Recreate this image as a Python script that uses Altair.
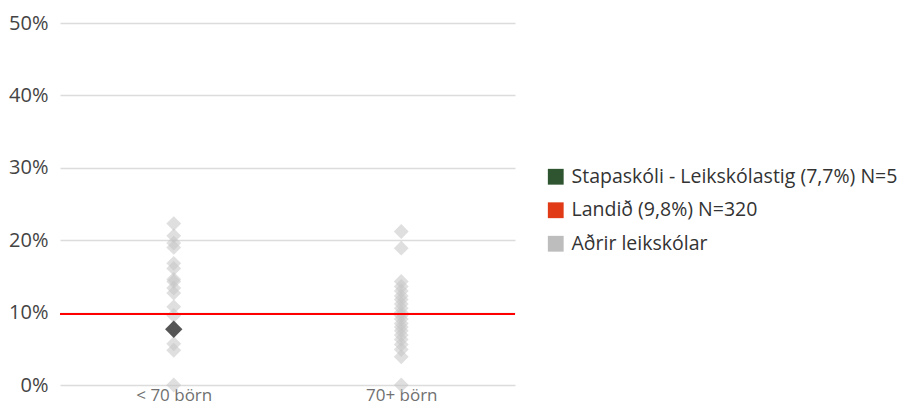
import altair as alt
import pandas as pd

categories = ["< 70 börn", "70+ börn"]
small_values = [22.3, 20.6, 19.6, 19.0, 16.8, 16.1, 14.6, 14.3, 13.4, 12.7, 10.8, 9.6, 5.7, 4.8, 0.0]
large_values = [21.2, 18.9, 14.3, 13.6, 13.0, 12.3, 11.8, 11.2, 10.6, 10.0, 9.6, 9.1,
                8.5, 8.0, 7.5, 6.9, 6.3, 5.6, 4.9, 3.9, 0.0]
school_category = "< 70 börn"
school_value = 7.7
national_value = 9.8
legend_labels = ["Stapaskóli - Leikskólastig (7,7%) N=5", "Landið (9,8%) N=320", "Aðrir leikskólar"]
legend_colors = ["#2e5530", "#e03a17", "#bdbdbd"]

FONT = "Open Sans"

others = pd.DataFrame(
    [{"cat": categories[0], "v": v / 100} for v in small_values]
    + [{"cat": categories[1], "v": v / 100} for v in large_values]
)
school = pd.DataFrame([{"cat": school_category, "v": school_value / 100}])
national = pd.DataFrame([{"v": national_value / 100}])
legend_df = pd.DataFrame({"lab": legend_labels, "v": [0.0] * 3, "cat": [categories[0]] * 3})

xenc = alt.X("cat:N", sort=categories, title=None,
             scale=alt.Scale(domain=categories),
             axis=alt.Axis(labelAngle=0, domain=False, ticks=False, grid=False, labelFontSize=17,
                           labelColor="#707070", labelFont=FONT, labelPadding=2))
yenc = alt.Y("v:Q", title=None,
             scale=alt.Scale(domain=[0, 0.5]),
             axis=alt.Axis(format=".0%", values=[0, 0.1, 0.2, 0.3, 0.4, 0.5],
                           domain=False, ticks=False, labelFontSize=20, labelColor="#444444",
                           labelFont=FONT, labelPadding=12, gridColor="#dcdcdc", gridWidth=1.5))

base_others = alt.Chart(others).mark_point(
    shape="diamond", filled=True, size=220, color="#c4c4c4", opacity=0.55
).encode(x=xenc, y=yenc)

rule = alt.Chart(national).mark_rule(color="#ff0000", strokeWidth=2).encode(y="v:Q")

school_pt = alt.Chart(school).mark_point(
    shape="diamond", filled=True, size=300, color="#555555", opacity=1
).encode(x="cat:N", y="v:Q")

legend_layer = alt.Chart(legend_df).mark_point(filled=True, opacity=0, size=1).encode(
    x="cat:N", y="v:Q",
    color=alt.Color("lab:N", title=None,
                    scale=alt.Scale(domain=legend_labels, range=legend_colors),
                    legend=alt.Legend(orient="none", legendX=486, legendY=144,
                                      symbolType="square", symbolSize=250,
                                      symbolOpacity=1, symbolStrokeWidth=0,
                                      labelFontSize=19.5, labelFont=FONT, labelColor="#333333",
                                      rowPadding=12.5, labelLimit=400, labelOffset=6))
)

chart = alt.layer(base_others, rule, school_pt, legend_layer).properties(
    width=455, height=362,
    autosize=alt.AutoSizeParams(type="none"),
    padding={"left": 52, "top": 15, "right": 387, "bottom": 18}
).configure(font=FONT).configure_view(stroke=None)

chart.save("out.html", embed_options={"renderer": "svg", "actions": False})
